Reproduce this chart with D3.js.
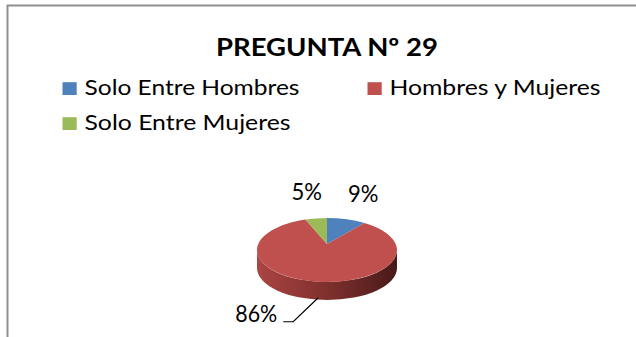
<!DOCTYPE html>
<html>
<head>
<meta charset="utf-8">
<script src="https://cdn.jsdelivr.net/npm/d3@7"></script>
<style>
  html, body { margin: 0; padding: 0; background: #fff; }
  svg { display: block; }
  text { font-family: Lato, "Open Sans", sans-serif; fill: #000; }
</style>
</head>
<body>
<svg id="chart" width="636" height="337"></svg>
<script>
// Survey answers for question 29
const title = "PREGUNTA Nº 29";
const categories = ["Solo Entre Hombres", "Hombres y Mujeres", "Solo Entre Mujeres"];
const values = [9, 86, 5];
const labels = ["9%", "86%", "5%"];
const colors = ["#4f81bd", "#c0504d", "#9bbb59"];

const svg = d3.select("#chart");

// chart frame (right and bottom edges fall outside the view)
svg.append("rect")
  .attr("x", 7.5).attr("y", 5.5)
  .attr("width", 700).attr("height", 400)
  .attr("fill", "#fff")
  .attr("stroke", "#8f8f8f").attr("stroke-width", 2);

// title
svg.append("text")
  .attr("x", 327).attr("y", 55.5)
  .attr("text-anchor", "middle")
  .attr("font-weight", "bold")
  .attr("font-size", 25)
  .attr("textLength", 222)
  .attr("lengthAdjust", "spacingAndGlyphs")
  .text(title);

// legend: two columns, wraps into a second row
const legendPos = [
  { x: 62.5, y: 95, len: 215 },
  { x: 367.5, y: 95, len: 211 },
  { x: 62.5, y: 130, len: 206 }
];
const legend = svg.append("g");
categories.forEach((c, i) => {
  const p = legendPos[i];
  legend.append("rect")
    .attr("x", p.x).attr("y", p.y - 12.8)
    .attr("width", 14.2).attr("height", 12.8)
    .attr("fill", colors[i]);
  legend.append("text")
    .attr("x", p.x + 22).attr("y", p.y)
    .attr("font-size", 22)
    .attr("textLength", p.len)
    .attr("lengthAdjust", "spacingAndGlyphs")
    .text(c);
});

// 3D pie geometry
const cx = 327, cy = 250, rx = 70, ry = 32, depth = 18;
const pie = d3.pie().sort(null).value(d => d)
  .startAngle(0).endAngle(2 * Math.PI);
const arcs = pie(values);

// angle measured clockwise from 12 o'clock, projected onto the ellipse
const pt = (a, dy = 0, k = 1, ky = k) => [cx + rx * k * Math.sin(a), cy - ry * ky * Math.cos(a) + dy];

// side gradient
const defs = svg.append("defs");
const grad = defs.append("linearGradient")
  .attr("id", "sideGrad")
  .attr("gradientUnits", "userSpaceOnUse")
  .attr("x1", cx - rx).attr("x2", cx + rx).attr("y1", 0).attr("y2", 0);
[["0%", "#ab4644"], ["15%", "#9d3e3c"], ["50%", "#7f302e"], ["80%", "#5f2322"], ["100%", "#471a19"]]
  .forEach(([o, c]) => grad.append("stop").attr("offset", o).attr("stop-color", c));

// visible front wall: angles between 90° and 270°
const front0 = Math.PI / 2, front1 = 3 * Math.PI / 2;
arcs.forEach((d, i) => {
  const a0 = Math.max(d.startAngle, front0);
  const a1 = Math.min(d.endAngle, front1);
  if (a1 <= a0) return;
  const p0 = pt(a0), p1 = pt(a1), q1 = pt(a1, depth), q0 = pt(a0, depth);
  const large = (a1 - a0) > Math.PI ? 1 : 0;
  const path = `M${p0}A${rx},${ry} 0 ${large} 1 ${p1}L${q1}A${rx},${ry} 0 ${large} 0 ${q0}Z`;
  svg.append("path")
    .attr("d", path)
    .attr("fill", i === 1 ? "url(#sideGrad)" : d3.color(colors[i]).darker(1.2));
});

// top faces
const apex = [cx, cy - 6];
arcs.forEach((d, i) => {
  const p0 = pt(d.startAngle), p1 = pt(d.endAngle);
  const large = (d.endAngle - d.startAngle) > Math.PI ? 1 : 0;
  svg.append("path")
    .attr("d", `M${apex}L${p0}A${rx},${ry} 0 ${large} 1 ${p1}Z`)
    .attr("fill", colors[i]);
});

// data labels
const labelSize = 23, capHalf = 8;
arcs.forEach((d, i) => {
  const mid = (d.startAngle + d.endAngle) / 2;
  if (values[i] > 50) {
    // large slice: label below with a leader line from the wall
    const start = pt(mid, depth - 2);
    const elbow = [start[0] - 25, start[1] + 24];
    const end = [elbow[0] - 10, elbow[1]];
    svg.append("path")
      .attr("d", `M${start}L${elbow}L${end}`)
      .attr("fill", "none").attr("stroke", "#000").attr("stroke-width", 1.2);
    svg.append("text")
      .attr("x", end[0] - 6).attr("y", end[1])
      .attr("text-anchor", "end")
      .attr("font-size", labelSize)
      .attr("textLength", 42)
      .attr("lengthAdjust", "spacingAndGlyphs")
      .text(labels[i]);
  } else {
    const p = pt(mid, 0, 1.86, 1.82);
    svg.append("text")
      .attr("x", p[0]).attr("y", p[1] + capHalf)
      .attr("text-anchor", "middle")
      .attr("font-size", labelSize)
      .attr("textLength", 30.5)
      .attr("lengthAdjust", "spacingAndGlyphs")
      .text(labels[i]);
  }
});
</script>
</body>
</html>
